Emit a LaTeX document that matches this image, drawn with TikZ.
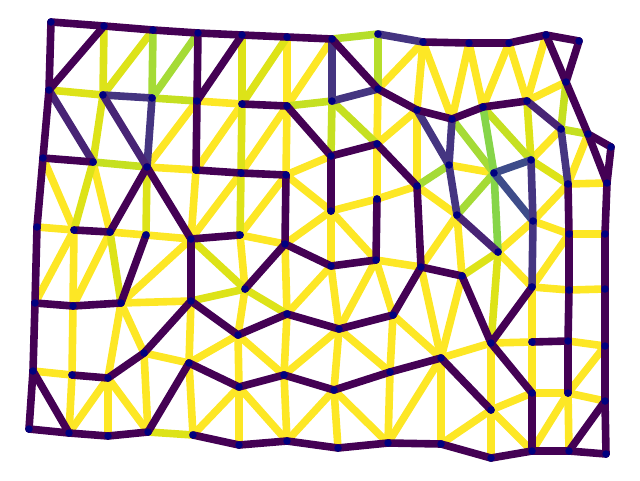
\documentclass[tikz,border=0pt]{standalone}
\pgfdeclarelayer{bg}
\pgfsetlayers{bg,main}
\definecolor{cP}{HTML}{440154}
\definecolor{cPa}{HTML}{482475}
\definecolor{cS}{HTML}{453581}
\definecolor{cSB}{HTML}{3E4C8A}
\definecolor{cG}{HTML}{86D549}
\definecolor{cLG}{HTML}{A5DB36}
\definecolor{cLY}{HTML}{B5DE2B}
\definecolor{cYG}{HTML}{C5E021}
\definecolor{cYa}{HTML}{DDE318}
\definecolor{cY}{HTML}{FDE725}
\definecolor{navy}{HTML}{00007F}
\tikzset{
  dot/.style={circle,fill=navy,inner sep=0pt,minimum size=7.5pt},
  edge/.style={line width=7.6pt,line cap=round}
}
\newcommand{\edges}[2]{\begin{pgfonlayer}{bg}\foreach \u/\v in {#2} \draw[edge,#1] (\u.center) -- (\v.center);\end{pgfonlayer}}
\begin{document}
\begin{tikzpicture}[x=1pt,y=-1pt]
\useasboundingbox (0,0) rectangle (640,480);
% nodes
\foreach \n/\x/\y in {a1/51/22,a2/104/26,a3/153/30,a4/198/33,a5/242/35,a6/287/37,a7/332/39,a8/378/34,a9/423/42,a10/469/43,a11/509/43,a12/546/35,a13/579/41,a14/566/82,
b1/49/90,b2/103/95,b3/152/98,b4/197/101,b5/242/104,b6/287/106,b7/332/101,b8/378/89,b9/417/110,b10/452/119,b11/483/107,b12/527/101,b13/561/129,b14/588/134,b15/611/147,
c1/43/158,c2/93/162,c3/147/167,c4/196/170,c5/241/173,c6/286/175,c7/331/156,c8/377/144,c9/449/165,c10/494/173,c11/531/160,c12/568/184,c13/607/183,
d1/37/227,d2/74/230,d3/110/232,d4/146/235,d5/191/239,d6/240/235,d7/285/244,d8/331/211,d9/377/199,d10/417/186,d11/457/215,d12/498/252,d13/533/221,d14/569/234,d15/605/234,
p1/331/266,p2/376/260,p3/421/267,p4/462/276,p5/532/287,p6/569/290,p7/605/289,
e1/35/303,e2/73/306,e3/121/303,e4/191/301,e5/245/289,e6/287/314,e7/238/335,e8/339/329,e9/393/315,e10/491/343,e11/532/342,e12/568/341,e13/605/346,
f1/33/371,f2/72/375,f3/108/378,f4/144/353,f5/189/363,f6/284/375,f7/239/387,f8/334/390,f9/390/372,f10/441/358,f11/491/410,f12/532/393,f13/568/393,f14/605/401,
g1/29/429,g2/69/433,g3/108/436,g4/148/432,g5/193/435,g6/239/445,g7/287/441,g8/338/448,g9/388/443,g10/441/444,g11/491/458,g12/532/451,g13/569/451,g14/606/454}
  \node[dot] (\n) at (\x,\y) {};
% edges
\edges{cY}{a6/b6,a7/b6,a9/b8,a9/b9,a9/b10,a10/b10,a10/b11,a11/b11,a11/b12,a12/b12,a14/b12,b4/b5,
b4/c3,b5/c4,b6/c5,b6/c6,b8/c8,b9/c8,b9/d10,b13/c11,b14/c12,
c3/c4,c6/c7,c9/c10,c12/c13,c1/d2,c2/d3,c4/d5,c5/d5,c6/d6,c6/d8,c8/d9,c12/d13,
d1/d2,d3/d4,d4/d5,d6/d7,d7/d8,d8/d9,d9/d10,d10/d11,d12/d13,d13/d14,d14/d15,
d2/e1,d2/e2,d3/e2,d5/e3,d6/e5,d7/e6,d8/p1,d8/p2,d11/p3,d11/p4,d12/p5,d14/p5,
p2/p3,p5/p6,p6/p7,p1/e6,p1/e8,p2/e8,p2/e9,p3/f10,p4/f10,p5/e11,
e3/e4,e10/e11,e12/e13,
e2/f2,e3/f3,e3/f4,e4/f5,e5/e7,e6/f6,e7/f5,e7/f7,e7/f6,e8/f6,e8/f8,e8/f9,e9/f9,e9/f10,e10/f10,e10/f11,e11/f12,e13/f13,
f1/f2,f4/f5,f11/f12,f12/f13,f13/f14,
f2/g2,f3/g2,f3/g3,f3/g4,f4/g4,f5/g5,f7/g5,f7/g6,f7/g7,f6/g7,f8/g7,f8/g8,f8/g9,f9/g9,f10/g9,f10/g10,f11/g10,f11/g11,f11/g12,f13/g12,f13/g13}
\edges{cYa}{a2/b2,a3/b2,a5/b5,a6/b5,b1/b2,b2/c2,b5/c5,c5/d6,c2/d2,d3/e3,d5/e5,e4/e5,e5/e6,g4/g5,c3/d4,b12/c11,c11/c12,d12/p4,d12/e10}
\edges{cYG}{b3/b4,b6/b7,b7/c7,b7/c8,a14/b13,b13/b14,b11/c11,c2/c3}
\edges{cLY}{a7/a8,a8/b8}
\edges{cLG}{a3/b3,a4/b3,b10/c10,c9/d10,c10/d11}
\edges{cG}{b11/c10,c10/d12}
\edges{cSB}{c10/c11,c10/d13}
\edges{cS}{b2/b3,b3/c3,a8/a9,a7/b7,b7/b8,b9/c9,b10/c9,c9/d11,c11/d13,b13/c12,d13/p5}
\edges{cPa}{b1/c2,b12/b13,d11/d12,b2/c3}
\edges{cP}{a1/a2,a2/a3,a3/a4,a4/a5,a5/a6,a6/a7,a9/a10,a10/a11,a11/a12,a12/a13,a13/a14,a12/a14,
a1/b1,a2/b1,a4/b4,a5/b4,a7/b8,a14/b14,
b5/b6,b8/b9,b9/b10,b10/b11,b11/b12,b14/b15,
b1/c1,b4/c4,b6/c7,b14/c13,b15/c13,
c1/c2,c4/c5,c5/c6,c7/c8,
c1/d1,c3/d3,c3/d5,c6/d7,c7/d8,c8/d10,c12/d14,c13/d15,
d2/d3,d5/d6,
d1/e1,d4/e3,d5/e4,d7/e5,d7/p1,d9/p2,d10/p3,d14/p6,d15/p7,
p1/p2,p3/p4,p3/e9,p4/e10,p5/e10,p6/e12,p7/e13,
e1/e2,e2/e3,e6/e8,e8/e9,e11/e12,
e1/f1,e4/f4,e4/e7,e6/e7,e10/f12,e12/f13,e13/f14,
f2/f3,f3/f4,f5/f7,f7/f6,f6/f8,f8/f9,f9/f10,f10/f11,
f1/g1,f1/g2,f5/g4,f12/g12,f14/g13,f14/g14,
g1/g2,g2/g3,g3/g4,g5/g6,g6/g7,g7/g8,g8/g9,g9/g10,g10/g11,g11/g12,g12/g13,g13/g14}
\end{tikzpicture}
\end{document}
